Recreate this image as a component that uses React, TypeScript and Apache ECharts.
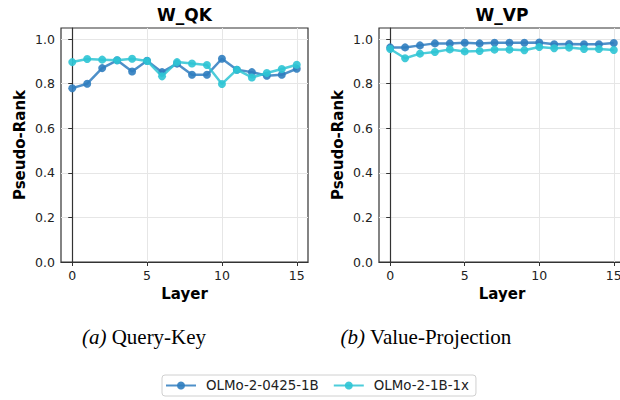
import React, { useEffect, useRef } from "react";
import * as echarts from "echarts";

const layers = [0, 1, 2, 3, 4, 5, 6, 7, 8, 9, 10, 11, 12, 13, 14, 15];
const seriesNames = ["OLMo-2-0425-1B", "OLMo-2-1B-1x"];
const qk0425 = [0.78, 0.8, 0.87, 0.905, 0.855, 0.903, 0.852, 0.89, 0.84, 0.84, 0.912, 0.863, 0.852, 0.836, 0.84, 0.867];
const qk1x = [0.897, 0.911, 0.908, 0.905, 0.912, 0.902, 0.833, 0.897, 0.891, 0.884, 0.799, 0.863, 0.828, 0.848, 0.866, 0.885];
const vp0425 = [0.963, 0.963, 0.972, 0.981, 0.981, 0.984, 0.981, 0.984, 0.984, 0.984, 0.985, 0.977, 0.978, 0.977, 0.977, 0.983];
const vp1x = [0.956, 0.914, 0.935, 0.942, 0.954, 0.945, 0.947, 0.953, 0.953, 0.95, 0.965, 0.959, 0.962, 0.956, 0.956, 0.951];
const xTicks = [0, 5, 10, 15];
const yTicks = [0, 0.2, 0.4, 0.6, 0.8, 1.0];
const titles = ["W_QK", "W_VP"];
const captionTags = ["(a)", "(b)"];
const captionTexts = ["Query-Key", "Value-Projection"];

const colors = ["#2f7dbf", "#2ec4d4"];
const FONT = "DejaVu Sans";

export default function App() {
  const ref = useRef<HTMLDivElement>(null);
  useEffect(() => {
    if (!ref.current) return;
    const chart = echarts.init(ref.current, null, { renderer: "svg" });
    const grids = [
      { left: 61, top: 28, width: 247, height: 234 },
      { left: 379, top: 28, width: 246, height: 234 },
    ];
    const pairs = (arr: number[]) => layers.map((l, i) => [l, arr[i]]);
    const data = [
      [qk0425, qk1x],
      [vp0425, vp1x],
    ];
    const series: any[] = [];
    [0, 1].forEach((g) => {
      series.push({
        type: "line",
        xAxisIndex: g,
        yAxisIndex: g,
        data: [],
        silent: true,
        z: 0,
        markLine: {
          silent: true,
          z: 0,
          symbol: ["none", "none"],
          label: { show: false },
          lineStyle: { color: "#e6e6e6", type: "solid", width: 1 },
          data: xTicks.map((t) => ({ xAxis: t })),
        },
      });
      [0, 1].forEach((s) => {
        series.push({
          type: "line",
          name: seriesNames[s],
          xAxisIndex: g,
          yAxisIndex: g,
          data: pairs(data[g][s]),
          symbol: "circle",
          symbolSize: 8,
          z: 2 + s,
          lineStyle: { width: 2.5, color: colors[s], opacity: 0.85 },
          itemStyle: { color: colors[s], opacity: 0.9 },
        });
      });
    });

    const xAxes = [0, 1].map((g) => ({
      type: "value",
      gridIndex: g,
      min: -0.75,
      max: 15.75,
      name: "Layer",
      nameLocation: "middle",
      nameGap: 23,
      nameTextStyle: { fontFamily: FONT, fontWeight: "bold", fontSize: 15, color: "#000" },
      axisLine: { show: true, onZero: false, lineStyle: { color: "#333", width: 1.2 } },
      axisTick: { show: true, length: 4, customValues: xTicks, lineStyle: { color: "#333" } },
      axisLabel: { customValues: xTicks, fontFamily: FONT, fontSize: 12.5, color: "#222", margin: 7 },
      splitLine: { show: false },
    }));
    const yAxes = [0, 1].map((g) => ({
      type: "value",
      gridIndex: g,
      min: 0,
      max: 1.05,
      name: "Pseudo-Rank",
      nameLocation: "middle",
      nameGap: 34,
      nameTextStyle: { fontFamily: FONT, fontWeight: "bold", fontSize: 15, color: "#000" },
      axisLine: { show: true, lineStyle: { color: "#333", width: 1.2 } },
      axisTick: { show: true, length: 4, customValues: yTicks, lineStyle: { color: "#333" } },
      axisLabel: {
        customValues: yTicks,
        fontFamily: FONT,
        fontSize: 12.5,
        color: "#222",
        margin: 6,
        formatter: (v: number) => v.toFixed(1),
      },
      splitLine: { show: true, lineStyle: { color: "#e6e6e6", width: 1 } },
    }));

    const graphic: any[] = [];
    [0, 1].forEach((g) => {
      const cx = grids[g].left + grids[g].width / 2;
      graphic.push({
        type: "text",
        x: cx,
        y: 15,
        style: {
          text: titles[g],
          fontFamily: FONT,
          fontWeight: "bold",
          fontSize: 17,
          fill: "#000",
          align: "center",
          verticalAlign: "middle",
        },
      });
    });
    const capCenters = [144, 426];
    [0, 1].forEach((g) => {
      graphic.push({
        type: "text",
        x: capCenters[g],
        y: 337,
        style: {
          text: "{i|" + captionTags[g] + "} " + captionTexts[g],
          fontFamily: "Liberation Serif",
          fontSize: 21,
          fill: "#000",
          align: "center",
          verticalAlign: "middle",
          rich: {
            i: { fontFamily: "Liberation Serif", fontStyle: "italic", fontSize: 21, fill: "#000" },
          },
        },
      });
    });

    chart.setOption({
      animation: false,
      backgroundColor: "#fff",
      grid: grids.map((g) => ({
        ...g,
        show: true,
        outerBoundsMode: "none",
        containLabel: false,
        borderColor: "#333",
        borderWidth: 1.2,
        backgroundColor: "transparent",
      })),
      xAxis: xAxes,
      yAxis: yAxes,
      series,
      graphic,
      legend: {
        data: seriesNames,
        left: 162,
        top: 375,
        orient: "horizontal",
        itemWidth: 30,
        itemHeight: 10,
        itemGap: 14,
        padding: [4, 7, 4, 3],
        borderColor: "#d0d0d0",
        borderWidth: 1,
        borderRadius: 3,
        textStyle: { fontFamily: FONT, fontSize: 13.4, color: "#222", padding: [0, 0, 0, 5] },
      },
    });
    return () => chart.dispose();
  }, []);
  return (
    <div
      ref={ref}
      style={{ position: "fixed", left: 0, top: 0, width: 620, height: 400, background: "#fff" }}
    />
  );
}
